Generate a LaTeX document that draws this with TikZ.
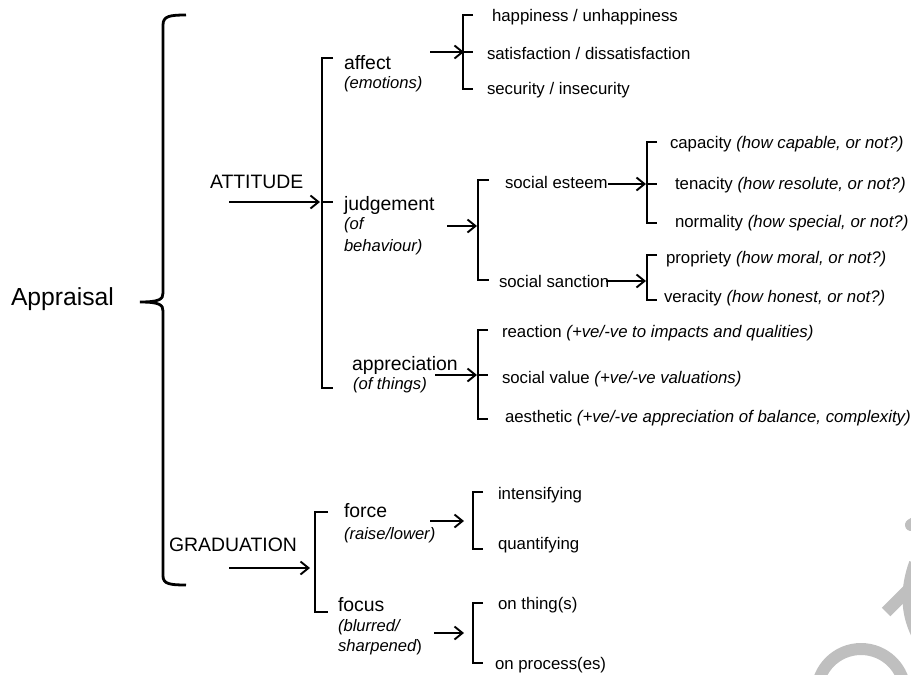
\documentclass[tikz,border=0pt]{standalone}
\usepackage{fontspec}
\setmainfont{Liberation Sans}
\usetikzlibrary{arrows.meta}
\tikzset{
  lbl/.style={anchor=base west, inner sep=0pt, outer sep=0pt},
  top/.style={lbl, font=\fontsize{24.7}{28}\selectfont},
  cat/.style={lbl, font=\fontsize{19.4}{22}\selectfont},
  item/.style={lbl, font=\fontsize{16.8}{19}\selectfont},
  gloss/.style={lbl, font=\fontsize{16.6}{19}\selectfont\itshape},
  arr/.style={line width=1.9pt, -{Straight Barb[length=8pt,width=13pt,line width=1.9pt]}},
  brk/.style={line width=1.6pt, line join=miter},
  bigbrace/.style={line width=2.8pt, line cap=butt},
  wm/.style={line width=12pt, color=black!25}
}
\newcommand{\bkt}[4]{% x, top, bottom, tick-length
  \draw[brk] (#1+#4,#2) -- (#1,#2) -- (#1,#3) -- (#1+#4,#3);}
\begin{document}
\begin{tikzpicture}[x=1pt,y=-1pt]
\useasboundingbox (0,0) rectangle (911,675);
% watermark fragments
\begin{scope}
\clip (0,0) rectangle (911,675);
\draw[wm] (861,693) circle[radius=44pt];
\draw[wm] (886,612) -- (916,582);
\draw[wm] (915,563) .. controls (906,588) and (906,612) .. (917,634);
\draw[wm, line cap=round] (911,525) -- (925,516);
\end{scope}

% Appraisal and big brace
\node[top] (appr) at (11,305) {Appraisal};
\draw[bigbrace] (186,15) .. controls (170,15) and (163,16) .. (163,25)
  -- (163,293) .. controls (163,299) and (160,302) .. (140,302)
  .. controls (160,302) and (163,305) .. (163,311)
  -- (163,576) .. controls (163,584) and (170,585) .. (186,585);

% ATTITUDE
\node[cat] (att) at (210,188) {ATTITUDE};
\coordinate (attS) at (229,202); \coordinate (attE) at (320,202);
\draw[arr] (attS) -- (attE);
\bkt{322}{58}{388}{11}
\draw[brk] (322,202) -- (333,202);

% affect
\node[cat] (aff) at (344,69) {affect};
\node[gloss] (affg) at (344,88) {(emotions)};
\coordinate (affS) at (430,52); \coordinate (affE) at (464,52);
\draw[arr] (affS) -- (affE);
\bkt{463}{15}{89}{10}
\draw[brk] (463,52) -- (473,52);
\node[item] (hap) at (492,21) {happiness / unhappiness};
\node[item] (sat) at (487,59) {satisfaction / dissatisfaction};
\node[item] (sec) at (487,94) {security / insecurity};

% judgement
\node[cat] (jud) at (344,210) {judgement};
\node[gloss] (judg1) at (344,229) {(of};
\node[gloss] (judg2) at (344,251) {behaviour)};
\coordinate (judS) at (447,226); \coordinate (judE) at (477,226);
\draw[arr] (judS) -- (judE);
\bkt{478}{180}{280}{11}
\node[item] (est) at (505,188) {social esteem};
\node[item] (san) at (499,287) {social sanction};
\coordinate (estS) at (608,184); \coordinate (estE) at (646,184);
\draw[arr] (estS) -- (estE);
\bkt{647}{142}{223}{10}
\draw[brk] (647,184) -- (657,184);
\node[item] (cap) at (670,148) {capacity \textit{(how capable, or not?)}};
\node[item] (ten) at (675,189) {tenacity \textit{(how resolute, or not?)}};
\node[item] (nor) at (675,227) {normality \textit{(how special, or not?)}};
\coordinate (sanS) at (606,281); \coordinate (sanE) at (646,281);
\draw[arr] (sanS) -- (sanE);
\bkt{647}{255}{300}{10}
\node[item] (pro) at (666,263) {propriety \textit{(how moral, or not?)}};
\node[item] (ver) at (664,302) {veracity \textit{(how honest, or not?)}};

% appreciation
\node[cat] (app) at (352,370) {appreciation};
\node[gloss] (appg) at (353,389) {(of things)};
\coordinate (appS) at (435,375); \coordinate (appE) at (477,375);
\draw[arr] (appS) -- (appE);
\bkt{478}{330}{419}{10}
\draw[brk] (478,375) -- (488,375);
\node[item] (rea) at (502,337) {reaction \textit{(+ve/-ve to impacts and qualities)}};
\node[item] (soc) at (502,383) {social value \textit{(+ve/-ve valuations)}};
\node[item] (aes) at (505,422) {aesthetic \textit{(+ve/-ve appreciation of balance, complexity)}};

% GRADUATION
\node[cat] (gra) at (169,551) {GRADUATION};
\coordinate (graS) at (229,568); \coordinate (graE) at (310,568);
\draw[arr] (graS) -- (graE);
\bkt{315}{512}{612}{13}

% force
\node[cat] (for) at (344,517) {force};
\node[gloss] (forg) at (344,539) {(raise/lower)};
\coordinate (forS) at (430,521); \coordinate (forE) at (464,521);
\draw[arr] (forS) -- (forE);
\bkt{473}{492}{549}{10}
\node[item] (int) at (498,499) {intensifying};
\node[item] (qua) at (498,549) {quantifying};

% focus
\node[cat] (foc) at (338,611) {focus};
\node[gloss] (focg1) at (338,631) {(blurred/};
\node[gloss] (focg2) at (338,651) {sharpened\upshape)};
\coordinate (focS) at (434,633); \coordinate (focE) at (464,633);
\draw[arr] (focS) -- (focE);
\bkt{473}{603}{663}{10}
\node[item] (thi) at (498,609) {on thing(s)};
\node[item] (prc) at (495,669) {on process(es)};
\end{tikzpicture}
\end{document}
